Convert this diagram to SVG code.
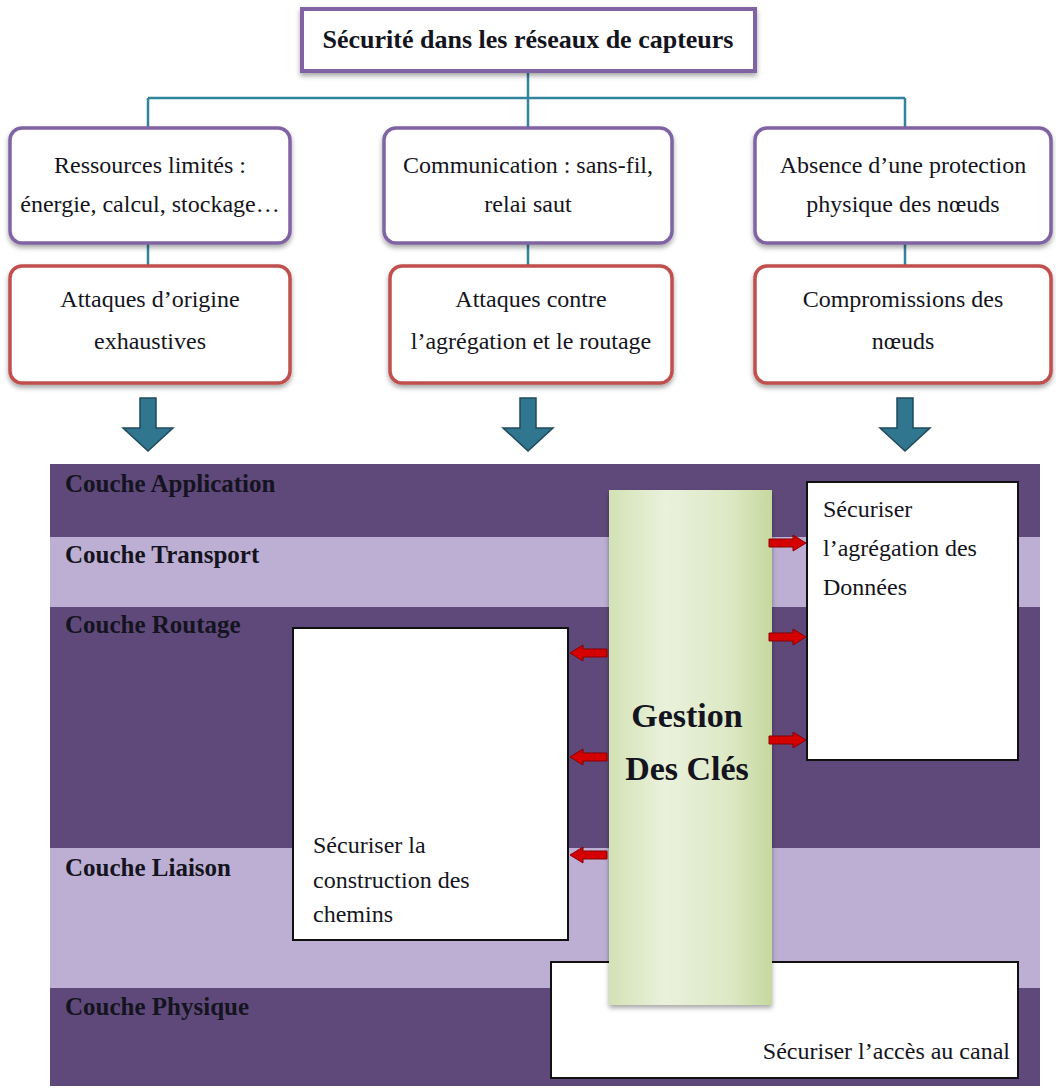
<svg xmlns="http://www.w3.org/2000/svg" width="1056" height="1091" viewBox="0 0 1056 1091">
<defs>
<style>
text{font-family:"Liberation Serif","Times New Roman",serif;fill:#141420}
.t{font-size:24px;text-anchor:middle}
.tb{font-size:26px;font-weight:bold;text-anchor:middle}
.lay{font-size:25px;font-weight:bold}
.w{font-size:24px}
.g{font-size:34px;font-weight:bold;text-anchor:middle}
.pbox{fill:#fff;stroke:#8064A2;stroke-width:3.5}
.rbox{fill:#fff;stroke:#C0504D;stroke-width:3.5}
.conn{stroke:#31859C;stroke-width:2.5;fill:none}
.dark{fill:#5F497A}
.light{fill:#BDAFD3}
.wbox{fill:#fff;stroke:#111;stroke-width:2}
.bigarrow{fill:#31768F;stroke:#1F4A5C;stroke-width:1.5}
.ra{fill:#D40000;stroke:#8B0000;stroke-width:1}
</style>
<filter id="sh" x="-10%" y="-10%" width="120%" height="130%"><feDropShadow dx="0" dy="3" stdDeviation="2.5" flood-color="#000" flood-opacity="0.35"/></filter>
<linearGradient id="green" x1="0" y1="0" x2="1" y2="0">
<stop offset="0" stop-color="#D3E2B4"/>
<stop offset="0.35" stop-color="#EAF1DC"/>
<stop offset="0.75" stop-color="#DCE8C4"/>
<stop offset="1" stop-color="#C6D89E"/>
</linearGradient>
<path id="la" d="M0,0 L13,-8 L13,-4 L37,-4 L37,4 L13,4 L13,8 Z"/>
<path id="da" d="M-8,0 H8 V30 H25 L0,53 L-25,30 H-8 Z"/>
</defs>

<g id="layers">
<rect x="50" y="464" width="990" height="622" class="dark"/>
<rect x="50" y="537" width="990" height="70" class="light"/>
<rect x="50" y="848" width="990" height="140" class="light"/>
<text class="lay" x="65" y="492">Couche Application</text>
<text class="lay" x="65" y="563">Couche Transport</text>
<text class="lay" x="65" y="633">Couche Routage</text>
<text class="lay" x="65" y="876">Couche Liaison</text>
<text class="lay" x="65" y="1015">Couche Physique</text>
</g>

<g id="connectors">
<path class="conn" d="M528,72 V98 M148,98 H905 M148,98 V128 M528,98 V128 M905,98 V128 M148,243 V266 M528,243 V266 M905,243 V266"/>
<use href="#da" class="bigarrow" transform="translate(148,398)"/>
<use href="#da" class="bigarrow" transform="translate(528,398)"/>
<use href="#da" class="bigarrow" transform="translate(905,398)"/>
</g>

<g id="title">
<rect x="302" y="9" width="453" height="62" fill="#fff" stroke="#8064A2" stroke-width="4" filter="url(#sh)"/>
<text class="tb" x="528" y="48">Sécurité dans les réseaux de capteurs</text>
</g>

<g id="n-ressources">
<rect x="10" y="128" width="280" height="115" rx="12" class="pbox" filter="url(#sh)"/>
<text class="t" x="150" y="173">Ressources limités :</text>
<text class="t" x="150" y="212">énergie, calcul, stockage…</text>
</g>
<g id="n-communication">
<rect x="384" y="128" width="288" height="115" rx="12" class="pbox" filter="url(#sh)"/>
<text class="t" x="528" y="173">Communication : sans-fil,</text>
<text class="t" x="528" y="212">relai saut</text>
</g>
<g id="n-absence">
<rect x="755" y="128" width="296" height="115" rx="12" class="pbox" filter="url(#sh)"/>
<text class="t" x="903" y="173">Absence d’une protection</text>
<text class="t" x="903" y="212">physique des nœuds</text>
</g>

<g id="n-attaques-origine">
<rect x="10" y="266" width="280" height="117" rx="12" class="rbox" filter="url(#sh)"/>
<text class="t" x="150" y="307">Attaques d’origine</text>
<text class="t" x="150" y="349">exhaustives</text>
</g>
<g id="n-attaques-agregation">
<rect x="390" y="266" width="282" height="117" rx="12" class="rbox" filter="url(#sh)"/>
<text class="t" x="531" y="307">Attaques contre</text>
<text class="t" x="531" y="349">l’agrégation et le routage</text>
</g>
<g id="n-compromissions">
<rect x="755" y="266" width="296" height="117" rx="12" class="rbox" filter="url(#sh)"/>
<text class="t" x="903" y="307">Compromissions des</text>
<text class="t" x="903" y="349">nœuds</text>
</g>

<g id="n-agregation">
<rect x="807" y="482" width="211" height="278" class="wbox"/>
<text class="w" x="823" y="517">Sécuriser</text>
<text class="w" x="823" y="556">l’agrégation des</text>
<text class="w" x="823" y="595">Données</text>
</g>
<g id="n-chemins">
<rect x="293" y="628" width="275" height="312" class="wbox"/>
<text class="w" x="313" y="853">Sécuriser la</text>
<text class="w" x="313" y="888">construction des</text>
<text class="w" x="313" y="922">chemins</text>
</g>
<g id="n-canal">
<rect x="551" y="962" width="467" height="116" class="wbox"/>
<text class="w" x="1010" y="1059" text-anchor="end">Sécuriser l’accès au canal</text>
</g>

<g id="n-gestion">
<rect x="609" y="490" width="163" height="515" fill="url(#green)" filter="url(#sh)"/>
<text class="g" x="687" y="727">Gestion</text>
<text class="g" x="687" y="780">Des Clés</text>
</g>

<g id="key-arrows">
<use href="#la" class="ra" transform="translate(570,653)"/>
<use href="#la" class="ra" transform="translate(570,757)"/>
<use href="#la" class="ra" transform="translate(570,855)"/>
<use href="#la" class="ra" transform="translate(806,543) scale(-1,1)"/>
<use href="#la" class="ra" transform="translate(806,637) scale(-1,1)"/>
<use href="#la" class="ra" transform="translate(806,740) scale(-1,1)"/>
</g>
</svg>
